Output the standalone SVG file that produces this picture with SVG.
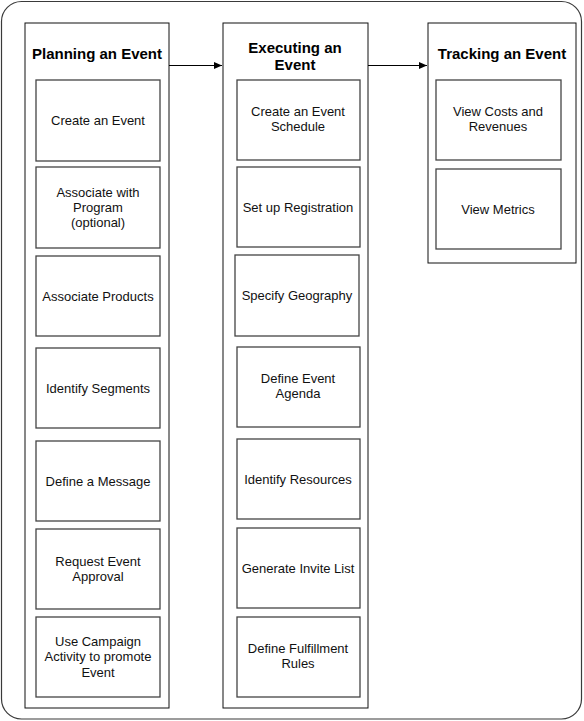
<svg xmlns="http://www.w3.org/2000/svg" width="584" height="721" viewBox="0 0 584 721">
<style>
.outer{fill:#fff;stroke:#3a3a3a;stroke-width:1.2}
.col{fill:#fff;stroke:#111;stroke-width:1}
.box{fill:#fff;stroke:#444;stroke-width:1.3}
.title{font-family:"Liberation Sans",Arial,sans-serif;font-size:15px;font-weight:bold;fill:#000;text-anchor:middle}
.lbl{font-family:"Liberation Sans",Arial,sans-serif;font-size:13px;fill:#111;text-anchor:middle}
.conn{stroke:#000;stroke-width:1;fill:none}
</style>
<defs>
<marker id="arr" markerWidth="8" markerHeight="8" refX="8" refY="4" orient="auto" markerUnits="userSpaceOnUse">
<path d="M0,0.5 L8,4 L0,7.5 Z" fill="#000"/>
</marker>
</defs>
<rect class="outer" x="1.5" y="1.5" width="580" height="717.5" rx="20" ry="20"/>

<g id="planning">
<rect class="col" x="25" y="23" width="144" height="685"/>
<text class="title" x="97" y="59">Planning an Event</text>
</g>
<g id="executing">
<rect class="col" x="223" y="23" width="145" height="685"/>
<text class="title" x="295" y="53">Executing an</text>
<text class="title" x="295" y="70">Event</text>
</g>
<g id="tracking">
<rect class="col" x="428" y="23" width="148" height="240"/>
<text class="title" x="502" y="59">Tracking an Event</text>
</g>

<g id="p1"><rect class="box" x="36" y="80" width="124" height="81"/><text class="lbl" x="98" y="125">Create an Event</text></g>
<g id="p2"><rect class="box" x="36" y="167" width="124" height="81"/><text class="lbl" x="98" y="197">Associate with</text><text class="lbl" x="98" y="212">Program</text><text class="lbl" x="98" y="227">(optional)</text></g>
<g id="p3"><rect class="box" x="36" y="256" width="124" height="80"/><text class="lbl" x="98" y="300.5">Associate Products</text></g>
<g id="p4"><rect class="box" x="36" y="348" width="124" height="80"/><text class="lbl" x="98" y="392.5">Identify Segments</text></g>
<g id="p5"><rect class="box" x="36" y="441" width="124" height="80"/><text class="lbl" x="98" y="485.5">Define a Message</text></g>
<g id="p6"><rect class="box" x="36" y="529" width="124" height="80"/><text class="lbl" x="98" y="566">Request Event</text><text class="lbl" x="98" y="581">Approval</text></g>
<g id="p7"><rect class="box" x="36" y="617" width="124" height="80"/><text class="lbl" x="98" y="645.5">Use Campaign</text><text class="lbl" x="98" y="661">Activity to promote</text><text class="lbl" x="98" y="676.5">Event</text></g>

<g id="e1"><rect class="box" x="237" y="80" width="123" height="80"/><text class="lbl" x="298" y="116">Create an Event</text><text class="lbl" x="298" y="131">Schedule</text></g>
<g id="e2"><rect class="box" x="237" y="167" width="123" height="80"/><text class="lbl" x="298" y="211.5">Set up Registration</text></g>
<g id="e3"><rect class="box" x="235" y="255" width="124" height="81"/><text class="lbl" x="297" y="300">Specify Geography</text></g>
<g id="e4"><rect class="box" x="237" y="347" width="123" height="80"/><text class="lbl" x="298" y="383">Define Event</text><text class="lbl" x="298" y="398">Agenda</text></g>
<g id="e5"><rect class="box" x="237" y="439" width="123" height="80"/><text class="lbl" x="298" y="483.5">Identify Resources</text></g>
<g id="e6"><rect class="box" x="237" y="528" width="123" height="80"/><text class="lbl" x="298" y="572.5">Generate Invite List</text></g>
<g id="e7"><rect class="box" x="237" y="617" width="123" height="80"/><text class="lbl" x="298" y="653">Define Fulfillment</text><text class="lbl" x="298" y="668">Rules</text></g>

<g id="t1"><rect class="box" x="436" y="80" width="125" height="80"/><text class="lbl" x="498" y="116">View Costs and</text><text class="lbl" x="498" y="131">Revenues</text></g>
<g id="t2"><rect class="box" x="436" y="169" width="125" height="80"/><text class="lbl" x="498" y="213.5">View Metrics</text></g>

<g id="connectors">
<line class="conn" x1="169" y1="65.5" x2="222" y2="65.5" marker-end="url(#arr)"/>
<line class="conn" x1="368" y1="65.5" x2="427" y2="65.5" marker-end="url(#arr)"/>
</g>
</svg>
